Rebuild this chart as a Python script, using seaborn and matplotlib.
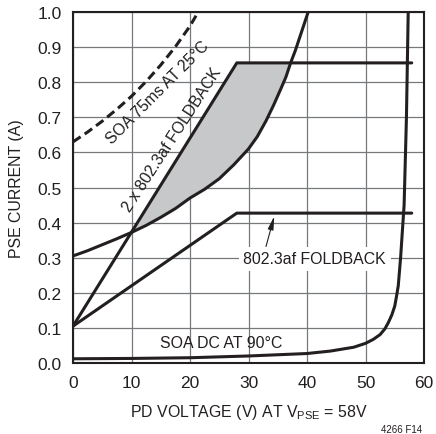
import numpy as np
import matplotlib
matplotlib.use("Agg")
import matplotlib.pyplot as plt
import seaborn as sns

# SOA 75ms at 25C (dashed)
soa75_v = [0, 2.5, 5, 7.5, 10, 12.5, 15, 17.5, 20, 21.4]
soa75_i = [0.63, 0.658, 0.689, 0.723, 0.76, 0.802, 0.849, 0.901, 0.96, 1.0]

# SOA curve bounding the shaded area (solid)
soa_v = [0, 2.5, 5, 7.5, 10, 12.5, 15, 17.5, 20, 22.5, 25, 27.5, 30, 31.5, 33, 34.3, 35.5, 36.4, 37.2, 38, 38.8, 39.5, 40.2]
soa_i = [0.305, 0.32, 0.337, 0.354, 0.372, 0.392, 0.415, 0.44, 0.47, 0.495, 0.525, 0.565, 0.61, 0.645, 0.69, 0.735, 0.78, 0.815, 0.855, 0.89, 0.93, 0.965, 1.0]

# 2 x 802.3af foldback
fold2_v = [0, 28, 57.9]
fold2_i = [0.105, 0.855, 0.855]

# 802.3af foldback
fold1_v = [0, 28, 57.9]
fold1_i = [0.105, 0.427, 0.427]

# SOA DC at 90C
soadc_v = [0, 10, 20, 30, 40, 44, 48, 50, 51.3, 52.5, 53.3, 53.9, 54.5, 55.0, 55.3, 55.6, 55.8, 56.0, 56.2, 56.4, 56.6, 57.0, 57.3]
soadc_i = [0.012, 0.013, 0.015, 0.02, 0.027, 0.034, 0.045, 0.056, 0.067, 0.081, 0.097, 0.115, 0.137, 0.162, 0.19, 0.22, 0.26, 0.30, 0.35, 0.40, 0.45, 0.70, 1.0]

x_ticks = [0, 10, 20, 30, 40, 50, 60]
y_ticks = [0.0, 0.1, 0.2, 0.3, 0.4, 0.5, 0.6, 0.7, 0.8, 0.9, 1.0]

sns.set_style("white")
plt.rcParams["font.family"] = ["Liberation Sans", "DejaVu Sans"]
plt.rcParams["mathtext.fontset"] = "custom"
plt.rcParams["mathtext.rm"] = "Liberation Sans"

ink = "#231f20"
grid_col = "#77787b"
lw = 2.2
fs = 11.4

fig = plt.figure(figsize=(4.36, 4.35), dpi=100)
ax = fig.add_axes([73 / 436, 1 - 364 / 435, 351 / 436, 351 / 435])

# shaded region between 2x foldback and the SOA curve
sv = np.array(soa_v)
si = np.array(soa_i)
mask = (sv >= 10) & (si <= fold2_i[1])
poly_x = [fold2_v[1]] + list(sv[mask][::-1])
poly_y = [fold2_i[1]] + list(si[mask][::-1])
ax.fill(poly_x, poly_y, color="#c7c8ca", lw=0, zorder=1)

sns.lineplot(x=soa75_v, y=soa75_i, ax=ax, color=ink, lw=lw, dashes=(3, 1.6), sort=False, estimator=None, zorder=3)
sns.lineplot(x=soa_v, y=soa_i, ax=ax, color=ink, lw=lw, sort=False, estimator=None, zorder=3)
sns.lineplot(x=fold2_v, y=fold2_i, ax=ax, color=ink, lw=lw, sort=False, estimator=None, zorder=3)
sns.lineplot(x=fold1_v, y=fold1_i, ax=ax, color=ink, lw=lw, sort=False, estimator=None, zorder=3)
sns.lineplot(x=soadc_v, y=soadc_i, ax=ax, color=ink, lw=lw, sort=False, estimator=None, zorder=3)

ax.set_xlim(0, 60)
ax.set_ylim(0, 1.0)
ax.set_xticks(x_ticks)
ax.set_yticks(y_ticks)
ax.set_yticklabels([f"{t:.1f}" for t in y_ticks])
ax.grid(True, color=grid_col, lw=0.9)
ax.set_axisbelow(True)
ax.tick_params(length=0, labelsize=12.5, colors=ink)
ax.tick_params(axis="x", pad=9)
ax.tick_params(axis="y", pad=8)
for s in ax.spines.values():
    s.set_visible(True)
    s.set_color(ink)
    s.set_linewidth(1.5)

ax.set_xlabel(r"PD VOLTAGE (V) AT V$_{\mathregular{PSE}}$ = 58V", fontsize=fs, color=ink, labelpad=8)
ax.set_ylabel("PSE CURRENT (A)", fontsize=fs, color=ink, labelpad=10)

ax.text(14.4, 0.772, "SOA 75ms AT 25°C", rotation=45, rotation_mode="anchor",
        ha="center", va="center", fontsize=fs, color=ink, zorder=4)
ax.text(16.9, 0.639, "2 x 802.3af FOLDBACK", rotation=57, rotation_mode="anchor",
        ha="center", va="center", fontsize=fs, color=ink, zorder=4)
ax.text(25.3, 0.058, "SOA DC AT 90°C", ha="center", va="center", fontsize=fs, color=ink, zorder=4)
ax.annotate("802.3af FOLDBACK", xy=(34.4, 0.418), xytext=(41.3, 0.297),
            ha="center", va="center", fontsize=fs, color=ink, zorder=4,
            bbox=dict(boxstyle="square,pad=0.3", fc="white", ec="none"),
            arrowprops=dict(arrowstyle="-|>,head_length=0.7,head_width=0.15", color=ink, lw=0.8,
                            shrinkA=0, shrinkB=0, relpos=(0.15, 1.0)))

fig.text(402 / 436, 1 - 430 / 435, "4266 F14", ha="center", va="center", fontsize=7, color=ink)

fig.savefig("out.png", dpi=100)
